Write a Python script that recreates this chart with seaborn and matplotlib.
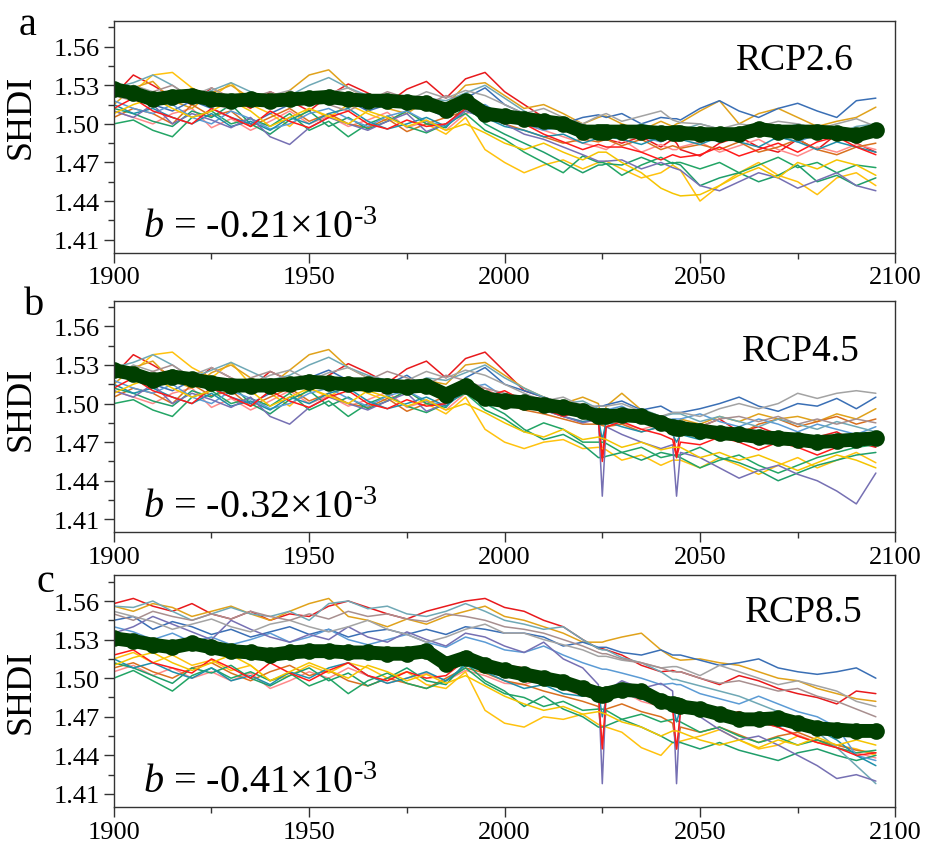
import matplotlib
matplotlib.use('Agg')
import matplotlib.pyplot as plt
from matplotlib.ticker import FixedLocator, FormatStrFormatter
import pandas as pd
import seaborn as sns

# x grid: 5-year steps, extra points around the 2025 / 2044 dips
hist_years = list(range(1900, 2001, 5))
fut_years = [2005, 2010, 2015, 2020, 2024, 2025, 2026, 2030, 2035, 2040, 2043, 2044, 2045,
             2050, 2055, 2060, 2065, 2070, 2075, 2080, 2085, 2090, 2095]
years = hist_years + fut_years

model_colors = ['#e8191c', '#ff8a8a', '#ffc20e', '#e0a21b', '#d9701f', '#22a565', '#1f9e6a', '#3a6fb5',
                '#5b9bd5', '#1e8faa', '#6fa8b5', '#7670b3', '#a3a3a3', '#a88f8f', '#ff1a1a', '#f5c400']

# historical runs 1900-2000 (same in RCP2.6 and RCP4.5 panels)
hist_ab = [
    [1.522, 1.538, 1.530, 1.521, 1.515, 1.528, 1.520, 1.512, 1.525, 1.518, 1.510, 1.522, 1.531, 1.524, 1.516, 1.527, 1.533, 1.520, 1.535, 1.540, 1.525],
    [1.510, 1.505, 1.500, 1.508, 1.512, 1.497, 1.504, 1.495, 1.502, 1.510, 1.500, 1.506, 1.498, 1.503, 1.509, 1.497, 1.502, 1.495, 1.508, 1.512, 1.503],
    [1.530, 1.525, 1.538, 1.540, 1.528, 1.520, 1.532, 1.515, 1.508, 1.498, 1.512, 1.505, 1.515, 1.508, 1.502, 1.510, 1.500, 1.492, 1.505, 1.480, 1.470],
    [1.515, 1.528, 1.533, 1.518, 1.512, 1.524, 1.530, 1.520, 1.514, 1.526, 1.538, 1.542, 1.528, 1.520, 1.512, 1.508, 1.518, 1.515, 1.530, 1.532, 1.522],
    [1.505, 1.512, 1.508, 1.500, 1.515, 1.506, 1.510, 1.498, 1.505, 1.512, 1.502, 1.508, 1.500, 1.497, 1.504, 1.494, 1.500, 1.505, 1.510, 1.507, 1.500],
    [1.500, 1.503, 1.495, 1.490, 1.505, 1.510, 1.500, 1.504, 1.498, 1.508, 1.495, 1.502, 1.490, 1.500, 1.506, 1.498, 1.493, 1.500, 1.508, 1.495, 1.488],
    [1.512, 1.508, 1.502, 1.498, 1.510, 1.505, 1.515, 1.500, 1.492, 1.503, 1.510, 1.498, 1.505, 1.496, 1.502, 1.510, 1.500, 1.497, 1.515, 1.500, 1.492],
    [1.525, 1.520, 1.515, 1.510, 1.518, 1.512, 1.505, 1.500, 1.508, 1.515, 1.520, 1.526, 1.518, 1.510, 1.515, 1.522, 1.512, 1.505, 1.520, 1.528, 1.515],
    [1.518, 1.512, 1.508, 1.515, 1.505, 1.500, 1.510, 1.504, 1.496, 1.500, 1.508, 1.512, 1.504, 1.498, 1.506, 1.510, 1.502, 1.498, 1.512, 1.515, 1.505],
    [1.515, 1.508, 1.512, 1.505, 1.500, 1.508, 1.498, 1.502, 1.495, 1.505, 1.500, 1.508, 1.512, 1.502, 1.496, 1.500, 1.505, 1.498, 1.510, 1.505, 1.498],
    [1.528, 1.532, 1.538, 1.530, 1.520, 1.526, 1.532, 1.525, 1.518, 1.522, 1.530, 1.536, 1.528, 1.522, 1.518, 1.512, 1.520, 1.518, 1.524, 1.530, 1.520],
    [1.510, 1.505, 1.515, 1.500, 1.508, 1.503, 1.497, 1.505, 1.490, 1.484, 1.497, 1.505, 1.500, 1.495, 1.502, 1.508, 1.494, 1.500, 1.510, 1.505, 1.500],
    [1.520, 1.530, 1.525, 1.518, 1.522, 1.528, 1.520, 1.515, 1.522, 1.526, 1.518, 1.524, 1.528, 1.520, 1.515, 1.518, 1.525, 1.520, 1.526, 1.522, 1.515],
    [1.522, 1.518, 1.525, 1.530, 1.520, 1.515, 1.512, 1.520, 1.525, 1.518, 1.522, 1.515, 1.510, 1.518, 1.525, 1.520, 1.515, 1.522, 1.518, 1.512, 1.508],
    [1.512, 1.520, 1.510, 1.505, 1.500, 1.512, 1.505, 1.498, 1.510, 1.502, 1.497, 1.505, 1.510, 1.500, 1.496, 1.503, 1.498, 1.500, 1.512, 1.505, 1.510],
    [1.508, 1.515, 1.520, 1.512, 1.505, 1.510, 1.518, 1.510, 1.498, 1.505, 1.512, 1.506, 1.500, 1.510, 1.505, 1.498, 1.503, 1.495, 1.500, 1.493, 1.485],
]

# historical runs shown in the RCP8.5 panel
hist_c = [
    [1.558, 1.562, 1.556, 1.552, 1.558, 1.550, 1.546, 1.552, 1.545, 1.550, 1.548, 1.556, 1.560, 1.555, 1.550, 1.546, 1.552, 1.556, 1.560, 1.562, 1.555],
    [1.505, 1.510, 1.502, 1.508, 1.500, 1.505, 1.498, 1.504, 1.492, 1.498, 1.505, 1.500, 1.508, 1.502, 1.496, 1.500, 1.504, 1.498, 1.506, 1.502, 1.496],
    [1.515, 1.520, 1.512, 1.518, 1.510, 1.514, 1.506, 1.510, 1.498, 1.502, 1.510, 1.504, 1.512, 1.508, 1.500, 1.505, 1.495, 1.492, 1.505, 1.475, 1.465],
    [1.556, 1.552, 1.558, 1.555, 1.548, 1.552, 1.556, 1.550, 1.545, 1.552, 1.558, 1.562, 1.548, 1.545, 1.540, 1.546, 1.542, 1.548, 1.552, 1.556, 1.548],
    [1.508, 1.512, 1.505, 1.500, 1.508, 1.512, 1.504, 1.498, 1.505, 1.510, 1.502, 1.506, 1.498, 1.494, 1.500, 1.496, 1.492, 1.500, 1.508, 1.504, 1.498],
    [1.500, 1.506, 1.498, 1.490, 1.502, 1.508, 1.500, 1.505, 1.498, 1.504, 1.494, 1.500, 1.488, 1.498, 1.504, 1.496, 1.492, 1.498, 1.508, 1.496, 1.488],
    [1.512, 1.508, 1.502, 1.496, 1.508, 1.504, 1.510, 1.500, 1.494, 1.502, 1.508, 1.498, 1.504, 1.494, 1.500, 1.508, 1.498, 1.495, 1.512, 1.498, 1.490],
    [1.545, 1.548, 1.538, 1.544, 1.540, 1.534, 1.538, 1.532, 1.536, 1.540, 1.534, 1.538, 1.532, 1.536, 1.538, 1.534, 1.538, 1.534, 1.540, 1.538, 1.535],
    [1.540, 1.536, 1.530, 1.535, 1.528, 1.532, 1.526, 1.530, 1.535, 1.528, 1.532, 1.538, 1.530, 1.526, 1.530, 1.534, 1.528, 1.524, 1.532, 1.528, 1.522],
    [1.515, 1.508, 1.512, 1.505, 1.500, 1.508, 1.498, 1.502, 1.495, 1.505, 1.500, 1.508, 1.512, 1.502, 1.496, 1.500, 1.505, 1.498, 1.510, 1.505, 1.498],
    [1.556, 1.555, 1.560, 1.552, 1.545, 1.550, 1.555, 1.550, 1.548, 1.552, 1.545, 1.558, 1.560, 1.554, 1.556, 1.550, 1.548, 1.552, 1.558, 1.552, 1.545],
    [1.535, 1.540, 1.548, 1.542, 1.536, 1.530, 1.545, 1.538, 1.532, 1.528, 1.534, 1.530, 1.540, 1.532, 1.528, 1.536, 1.530, 1.525, 1.535, 1.532, 1.525],
    [1.552, 1.548, 1.544, 1.538, 1.542, 1.546, 1.540, 1.536, 1.542, 1.545, 1.540, 1.536, 1.540, 1.545, 1.538, 1.534, 1.528, 1.532, 1.538, 1.542, 1.535],
    [1.550, 1.545, 1.552, 1.548, 1.545, 1.550, 1.546, 1.552, 1.548, 1.545, 1.550, 1.546, 1.552, 1.548, 1.550, 1.546, 1.544, 1.550, 1.548, 1.545, 1.540],
    [1.518, 1.522, 1.512, 1.508, 1.504, 1.515, 1.508, 1.500, 1.512, 1.504, 1.498, 1.506, 1.512, 1.502, 1.498, 1.505, 1.500, 1.502, 1.514, 1.506, 1.510],
    [1.510, 1.516, 1.520, 1.512, 1.506, 1.512, 1.518, 1.510, 1.498, 1.505, 1.512, 1.506, 1.500, 1.510, 1.505, 1.498, 1.503, 1.496, 1.502, 1.494, 1.486],
]

fut_26 = [
    [1.515, 1.505, 1.498, 1.490, 1.495, 1.492, 1.488, 1.485, 1.490, 1.482, 1.488, 1.485, 1.480, 1.475, 1.485, 1.490, 1.482, 1.478, 1.488, 1.480, 1.492, 1.485, 1.478],
    [1.500, 1.495, 1.490, 1.485, 1.482, 1.481, 1.480, 1.488, 1.478, 1.484, 1.480, 1.480, 1.482, 1.486, 1.478, 1.483, 1.488, 1.480, 1.475, 1.482, 1.478, 1.484, 1.480],
    [1.462, 1.468, 1.472, 1.465, 1.470, 1.470, 1.471, 1.465, 1.458, 1.462, 1.468, 1.466, 1.464, 1.440, 1.452, 1.462, 1.470, 1.460, 1.455, 1.445, 1.458, 1.462, 1.452],
    [1.512, 1.515, 1.508, 1.500, 1.505, 1.506, 1.506, 1.500, 1.495, 1.502, 1.498, 1.500, 1.501, 1.510, 1.518, 1.500, 1.508, 1.512, 1.505, 1.498, 1.502, 1.505, 1.513],
    [1.495, 1.490, 1.485, 1.488, 1.486, 1.487, 1.488, 1.483, 1.488, 1.480, 1.483, 1.482, 1.481, 1.484, 1.480, 1.486, 1.478, 1.482, 1.488, 1.480, 1.476, 1.482, 1.485],
    [1.478, 1.470, 1.462, 1.475, 1.470, 1.470, 1.469, 1.460, 1.468, 1.474, 1.469, 1.470, 1.470, 1.465, 1.470, 1.462, 1.468, 1.474, 1.466, 1.470, 1.462, 1.468, 1.466],
    [1.485, 1.478, 1.470, 1.462, 1.468, 1.468, 1.469, 1.468, 1.474, 1.468, 1.470, 1.469, 1.468, 1.452, 1.458, 1.462, 1.455, 1.460, 1.468, 1.455, 1.460, 1.452, 1.458],
    [1.508, 1.505, 1.500, 1.505, 1.507, 1.506, 1.505, 1.508, 1.500, 1.505, 1.504, 1.504, 1.503, 1.512, 1.518, 1.510, 1.505, 1.512, 1.516, 1.510, 1.505, 1.518, 1.520],
    [1.500, 1.495, 1.498, 1.490, 1.493, 1.492, 1.492, 1.495, 1.490, 1.486, 1.490, 1.490, 1.491, 1.490, 1.486, 1.492, 1.496, 1.490, 1.486, 1.492, 1.488, 1.494, 1.490],
    [1.495, 1.490, 1.492, 1.485, 1.489, 1.489, 1.490, 1.488, 1.484, 1.490, 1.488, 1.488, 1.488, 1.484, 1.490, 1.486, 1.482, 1.490, 1.486, 1.480, 1.486, 1.482, 1.478],
    [1.510, 1.502, 1.500, 1.496, 1.497, 1.497, 1.497, 1.494, 1.500, 1.496, 1.495, 1.495, 1.495, 1.500, 1.496, 1.492, 1.498, 1.495, 1.500, 1.496, 1.492, 1.498, 1.500],
    [1.492, 1.488, 1.482, 1.476, 1.471, 1.471, 1.471, 1.472, 1.465, 1.470, 1.466, 1.465, 1.464, 1.452, 1.448, 1.455, 1.462, 1.458, 1.450, 1.456, 1.462, 1.452, 1.448],
    [1.508, 1.512, 1.505, 1.500, 1.506, 1.507, 1.508, 1.502, 1.506, 1.510, 1.503, 1.502, 1.501, 1.500, 1.496, 1.500, 1.498, 1.502, 1.500, 1.496, 1.500, 1.504, 1.498],
    [1.505, 1.500, 1.496, 1.492, 1.494, 1.493, 1.492, 1.494, 1.490, 1.495, 1.490, 1.490, 1.490, 1.488, 1.494, 1.490, 1.495, 1.498, 1.492, 1.496, 1.490, 1.494, 1.490],
    [1.500, 1.492, 1.486, 1.480, 1.484, 1.483, 1.482, 1.482, 1.478, 1.472, 1.476, 1.475, 1.474, 1.476, 1.482, 1.475, 1.480, 1.485, 1.478, 1.486, 1.490, 1.482, 1.476],
    [1.480, 1.485, 1.478, 1.472, 1.478, 1.478, 1.478, 1.470, 1.462, 1.450, 1.446, 1.445, 1.444, 1.445, 1.452, 1.460, 1.466, 1.458, 1.470, 1.465, 1.472, 1.468, 1.460],
]

fut_45 = [
    [1.510, 1.505, 1.500, 1.495, 1.492, 1.458, 1.490, 1.488, 1.495, 1.485, 1.482, 1.458, 1.480, 1.482, 1.488, 1.478, 1.482, 1.476, 1.470, 1.474, 1.478, 1.470, 1.466],
    [1.498, 1.495, 1.490, 1.486, 1.487, 1.487, 1.487, 1.485, 1.480, 1.484, 1.479, 1.479, 1.479, 1.476, 1.480, 1.474, 1.470, 1.476, 1.472, 1.468, 1.474, 1.470, 1.468],
    [1.465, 1.470, 1.472, 1.465, 1.466, 1.465, 1.464, 1.456, 1.460, 1.452, 1.456, 1.456, 1.456, 1.450, 1.458, 1.452, 1.445, 1.452, 1.458, 1.450, 1.456, 1.462, 1.454],
    [1.512, 1.505, 1.500, 1.505, 1.500, 1.485, 1.498, 1.508, 1.495, 1.490, 1.486, 1.480, 1.488, 1.484, 1.490, 1.486, 1.492, 1.488, 1.490, 1.486, 1.492, 1.488, 1.496],
    [1.495, 1.492, 1.488, 1.484, 1.484, 1.483, 1.482, 1.484, 1.478, 1.482, 1.476, 1.476, 1.477, 1.474, 1.480, 1.476, 1.484, 1.488, 1.482, 1.486, 1.490, 1.484, 1.488],
    [1.478, 1.485, 1.480, 1.470, 1.470, 1.470, 1.469, 1.462, 1.466, 1.458, 1.460, 1.459, 1.458, 1.450, 1.456, 1.460, 1.452, 1.446, 1.452, 1.458, 1.462, 1.466, 1.468],
    [1.480, 1.472, 1.476, 1.468, 1.458, 1.458, 1.459, 1.462, 1.456, 1.462, 1.460, 1.460, 1.460, 1.466, 1.458, 1.454, 1.448, 1.440, 1.446, 1.452, 1.456, 1.460, 1.462],
    [1.510, 1.505, 1.500, 1.496, 1.498, 1.498, 1.499, 1.502, 1.495, 1.498, 1.493, 1.493, 1.493, 1.496, 1.500, 1.505, 1.498, 1.494, 1.500, 1.498, 1.504, 1.496, 1.505],
    [1.505, 1.500, 1.496, 1.492, 1.494, 1.494, 1.495, 1.498, 1.490, 1.486, 1.488, 1.488, 1.488, 1.492, 1.486, 1.482, 1.488, 1.484, 1.478, 1.484, 1.480, 1.476, 1.482],
    [1.500, 1.495, 1.490, 1.486, 1.488, 1.472, 1.486, 1.482, 1.478, 1.482, 1.476, 1.470, 1.476, 1.472, 1.478, 1.474, 1.470, 1.476, 1.472, 1.468, 1.472, 1.476, 1.470],
    [1.512, 1.505, 1.500, 1.502, 1.496, 1.496, 1.496, 1.492, 1.496, 1.490, 1.492, 1.492, 1.492, 1.486, 1.490, 1.486, 1.482, 1.488, 1.484, 1.480, 1.486, 1.482, 1.478],
    [1.500, 1.495, 1.490, 1.485, 1.488, 1.428, 1.482, 1.476, 1.470, 1.465, 1.468, 1.428, 1.462, 1.458, 1.450, 1.442, 1.448, 1.452, 1.445, 1.440, 1.432, 1.422, 1.446],
    [1.508, 1.502, 1.505, 1.498, 1.498, 1.498, 1.498, 1.500, 1.494, 1.490, 1.493, 1.493, 1.493, 1.490, 1.496, 1.500, 1.496, 1.500, 1.508, 1.504, 1.508, 1.510, 1.508],
    [1.505, 1.500, 1.496, 1.500, 1.495, 1.495, 1.494, 1.490, 1.486, 1.490, 1.485, 1.485, 1.485, 1.482, 1.488, 1.490, 1.486, 1.490, 1.484, 1.488, 1.484, 1.488, 1.485],
    [1.502, 1.496, 1.490, 1.495, 1.486, 1.455, 1.482, 1.486, 1.480, 1.476, 1.472, 1.458, 1.470, 1.468, 1.474, 1.470, 1.464, 1.470, 1.466, 1.460, 1.466, 1.472, 1.468],
    [1.478, 1.474, 1.480, 1.472, 1.474, 1.473, 1.472, 1.466, 1.470, 1.464, 1.466, 1.466, 1.466, 1.458, 1.462, 1.456, 1.460, 1.454, 1.448, 1.454, 1.460, 1.456, 1.450],
]

fut_85 = [
    [1.552, 1.545, 1.540, 1.530, 1.523, 1.523, 1.522, 1.518, 1.510, 1.505, 1.506, 1.505, 1.505, 1.500, 1.495, 1.502, 1.498, 1.492, 1.488, 1.485, 1.480, 1.490, 1.488],
    [1.495, 1.500, 1.492, 1.486, 1.487, 1.487, 1.487, 1.490, 1.482, 1.478, 1.478, 1.478, 1.478, 1.472, 1.468, 1.474, 1.466, 1.462, 1.456, 1.450, 1.446, 1.442, 1.438],
    [1.462, 1.470, 1.468, 1.472, 1.464, 1.463, 1.462, 1.458, 1.446, 1.440, 1.450, 1.450, 1.451, 1.455, 1.460, 1.452, 1.445, 1.448, 1.455, 1.450, 1.448, 1.445, 1.440],
    [1.545, 1.540, 1.535, 1.528, 1.528, 1.528, 1.529, 1.532, 1.535, 1.522, 1.516, 1.515, 1.514, 1.515, 1.512, 1.510, 1.505, 1.500, 1.498, 1.492, 1.488, 1.484, 1.482],
    [1.495, 1.490, 1.486, 1.482, 1.478, 1.448, 1.476, 1.480, 1.474, 1.470, 1.465, 1.445, 1.462, 1.458, 1.462, 1.456, 1.450, 1.455, 1.458, 1.452, 1.448, 1.444, 1.442],
    [1.485, 1.478, 1.482, 1.475, 1.476, 1.476, 1.475, 1.468, 1.472, 1.466, 1.468, 1.467, 1.466, 1.458, 1.462, 1.455, 1.450, 1.454, 1.448, 1.452, 1.446, 1.442, 1.444],
    [1.478, 1.486, 1.476, 1.470, 1.462, 1.462, 1.463, 1.468, 1.462, 1.455, 1.450, 1.450, 1.450, 1.445, 1.450, 1.444, 1.440, 1.436, 1.442, 1.445, 1.440, 1.436, 1.440],
    [1.535, 1.532, 1.525, 1.528, 1.524, 1.524, 1.524, 1.520, 1.518, 1.522, 1.518, 1.518, 1.518, 1.514, 1.510, 1.512, 1.515, 1.508, 1.505, 1.503, 1.505, 1.508, 1.500],
    [1.520, 1.525, 1.518, 1.512, 1.508, 1.507, 1.507, 1.504, 1.500, 1.495, 1.496, 1.495, 1.495, 1.488, 1.484, 1.480, 1.486, 1.480, 1.474, 1.470, 1.462, 1.440, 1.436],
    [1.492, 1.495, 1.488, 1.486, 1.490, 1.470, 1.484, 1.488, 1.484, 1.478, 1.480, 1.466, 1.476, 1.472, 1.474, 1.468, 1.470, 1.462, 1.466, 1.460, 1.452, 1.440, 1.432],
    [1.542, 1.538, 1.540, 1.530, 1.523, 1.522, 1.522, 1.516, 1.512, 1.505, 1.499, 1.499, 1.498, 1.494, 1.490, 1.486, 1.480, 1.474, 1.466, 1.458, 1.446, 1.432, 1.418],
    [1.520, 1.528, 1.515, 1.508, 1.495, 1.418, 1.490, 1.498, 1.492, 1.496, 1.490, 1.418, 1.480, 1.470, 1.460, 1.452, 1.455, 1.448, 1.440, 1.432, 1.422, 1.425, 1.420],
    [1.535, 1.530, 1.526, 1.522, 1.517, 1.517, 1.517, 1.514, 1.512, 1.508, 1.509, 1.509, 1.508, 1.502, 1.510, 1.505, 1.500, 1.495, 1.498, 1.494, 1.490, 1.482, 1.478],
    [1.538, 1.535, 1.530, 1.525, 1.520, 1.519, 1.519, 1.515, 1.512, 1.508, 1.505, 1.505, 1.505, 1.500, 1.496, 1.498, 1.494, 1.490, 1.492, 1.486, 1.482, 1.476, 1.470],
    [1.508, 1.500, 1.495, 1.490, 1.488, 1.445, 1.488, 1.494, 1.485, 1.480, 1.476, 1.445, 1.474, 1.478, 1.470, 1.474, 1.466, 1.462, 1.455, 1.450, 1.446, 1.440, 1.442],
    [1.480, 1.475, 1.478, 1.472, 1.474, 1.473, 1.472, 1.466, 1.462, 1.455, 1.459, 1.459, 1.458, 1.452, 1.448, 1.452, 1.446, 1.452, 1.448, 1.454, 1.448, 1.452, 1.448],
]

# ensemble mean (thick line), on the same year grid
mean_26 = [1.527, 1.524, 1.519, 1.521, 1.522, 1.519, 1.518, 1.519, 1.518, 1.519, 1.520, 1.521, 1.519, 1.518, 1.518, 1.517, 1.516, 1.511, 1.518, 1.508, 1.506,
           1.504, 1.502, 1.500, 1.494, 1.494, 1.494, 1.494, 1.494, 1.494, 1.493, 1.493, 1.493, 1.493, 1.492, 1.492, 1.492, 1.496, 1.494, 1.494, 1.494, 1.493, 1.491, 1.495]
mean_45 = [1.526, 1.523, 1.518, 1.521, 1.519, 1.516, 1.514, 1.514, 1.514, 1.515, 1.517, 1.516, 1.515, 1.515, 1.514, 1.513, 1.514, 1.507, 1.514, 1.504, 1.502,
           1.501, 1.499, 1.497, 1.494, 1.490, 1.490, 1.490, 1.491, 1.490, 1.485, 1.482, 1.481, 1.481, 1.479, 1.477, 1.476, 1.474, 1.473, 1.472, 1.470, 1.471, 1.472, 1.473]
mean_85 = [1.531, 1.529, 1.526, 1.524, 1.527, 1.524, 1.521, 1.520, 1.518, 1.520, 1.521, 1.521, 1.520, 1.520, 1.519, 1.519, 1.521, 1.511, 1.516, 1.510, 1.506,
           1.503, 1.500, 1.497, 1.492, 1.488, 1.487, 1.488, 1.491, 1.490, 1.482, 1.480, 1.479, 1.478, 1.476, 1.472, 1.468, 1.468, 1.469, 1.465, 1.461, 1.460, 1.459, 1.459]

panels = [
    ('a', 'RCP2.6', hist_ab, fut_26, mean_26, '-0.21'),
    ('b', 'RCP4.5', hist_ab, fut_45, mean_45, '-0.32'),
    ('c', 'RCP8.5', hist_c, fut_85, mean_85, '-0.41'),
]

sns.set_theme(style='ticks')
plt.rcParams['font.family'] = ['Liberation Serif', 'DejaVu Serif']
plt.rcParams['mathtext.fontset'] = 'custom'
plt.rcParams['mathtext.rm'] = 'Liberation Serif'
plt.rcParams['mathtext.it'] = 'Liberation Serif:italic'
plt.rcParams['text.color'] = 'black'
plt.rcParams['axes.labelcolor'] = 'black'

fig = plt.figure(figsize=(9.25, 8.45), dpi=100)
axes_pos = [[0.123, 0.700, 0.845, 0.274],
            [0.123, 0.369, 0.845, 0.274],
            [0.123, 0.044, 0.845, 0.274]]
letter_pos = [(0.020, 0.958), (0.026, 0.627), (0.040, 0.300)]
rcp_pos = [(0.947, 0.905), (0.955, 0.86), (0.958, 0.915)]
label_y = [0.59, 0.535, 0.50]

for i, (letter, scen, hist, fut, mean, slope) in enumerate(panels):
    ax = fig.add_axes(axes_pos[i])
    rows = []
    for m in range(len(model_colors)):
        vals = hist[m] + fut[m]
        for yr, v in zip(years, vals):
            rows.append({'year': yr, 'SHDI': v, 'model': m})
    df = pd.DataFrame(rows)
    sns.lineplot(data=df, x='year', y='SHDI', hue='model', palette=model_colors,
                 estimator=None, linewidth=1.1, legend=False, ax=ax)
    mean_df = pd.DataFrame({'year': years, 'SHDI': mean})
    sns.lineplot(data=mean_df, x='year', y='SHDI', color='#003f00', linewidth=10,
                 marker='o', markersize=12, markeredgewidth=0, ax=ax)

    ax.set_xlim(1900, 2100)
    ax.set_ylim(1.40, 1.58)
    ax.xaxis.set_major_locator(FixedLocator([1900, 1950, 2000, 2050, 2100]))
    ax.xaxis.set_minor_locator(FixedLocator([1925, 1975, 2025, 2075]))
    ax.yaxis.set_major_locator(FixedLocator([1.41, 1.44, 1.47, 1.50, 1.53, 1.56]))
    ax.yaxis.set_minor_locator(FixedLocator([1.425, 1.455, 1.485, 1.515, 1.545, 1.575]))
    ax.yaxis.set_major_formatter(FormatStrFormatter('%.2f'))
    ax.tick_params(which='major', direction='out', length=7, width=1, labelsize=19, pad=3,
                   colors='#333333', labelcolor='black')
    ax.tick_params(which='minor', direction='out', length=4, width=1, colors='#333333')
    for sp in ax.spines.values():
        sp.set_visible(True)
        sp.set_color('#333333')
        sp.set_linewidth(1.0)

    ax.set_xlabel('')
    ax.set_ylabel('SHDI', fontsize=26)
    ax.yaxis.set_label_coords(-0.097, label_y[i])

    ax.text(rcp_pos[i][0], rcp_pos[i][1], scen, transform=ax.transAxes,
            ha='right', va='top', fontsize=27)
    ax.text(0.037, 0.065, r'$b$ = ' + slope + r'×10$^{\text{-3}}$', transform=ax.transAxes,
            ha='left', va='baseline', fontsize=29)
    fig.text(letter_pos[i][0], letter_pos[i][1], letter, fontsize=29, ha='left', va='baseline')

fig.savefig('out.png', dpi=100)
